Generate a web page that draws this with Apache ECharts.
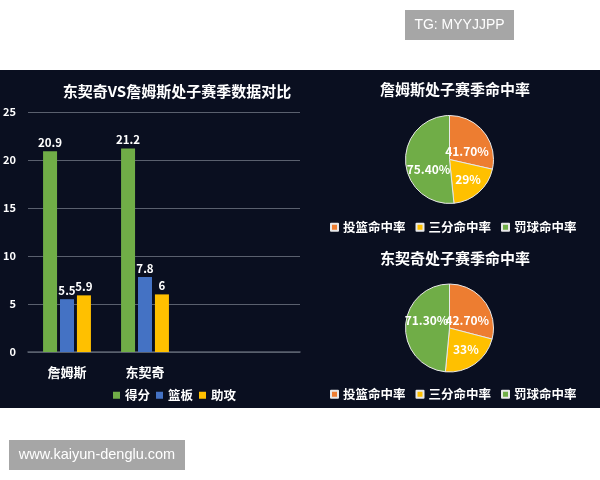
<!DOCTYPE html>
<html><head><meta charset="utf-8">
<script src="https://cdn.jsdelivr.net/npm/echarts@6/dist/echarts.min.js"></script>
<style>html,body{margin:0;padding:0;background:#fff}#c{width:600px;height:480px}</style>
</head><body><div id="c"></div>
<script>
// ---- data ----
var players = ['詹姆斯', '东契奇'];
var points = [20.9, 21.2];
var rebounds = [5.5, 7.8];
var assists = [5.9, 6];
var barSeriesNames = ['得分', '篮板', '助攻'];
var yTicks = [0, 5, 10, 15, 20, 25];

var pieNames = ['投篮命中率', '三分命中率', '罚球命中率'];
var jamesRates = [41.7, 29, 75.4];
var jamesLabels = ['41.70%', '29%', '75.40%'];
var doncicRates = [42.7, 33, 71.3];
var doncicLabels = ['42.70%', '33%', '71.30%'];

var barTitle = '东契奇VS詹姆斯处子赛季数据对比';
var pieTitle1 = '詹姆斯处子赛季命中率';
var pieTitle2 = '东契奇处子赛季命中率';
var watermark1 = 'TG: MYYJJPP';
var watermark2 = 'www.kaiyun-denglu.com';

// ---- styles ----
var FONT = '"Noto Sans CJK SC", "Noto Sans", sans-serif';
var GREEN = '#70ad47', BLUE = '#4472c4', YELLOW = '#ffc000', ORANGE = '#ed7d31';
var GRIDC = '#5a606e';
// label nudges (style only) to mimic the original "best fit" placement
var pieLabelNudge1 = [[-2, 8], [2, 1], [4, 9]];
var pieLabelNudge2 = [[-2, 8], [2, 1], [2, -6]];

function pieData(vals, nudge) {
  return pieNames.map(function (n, i) { return { name: n, value: vals[i], label: { offset: nudge[i] } }; });
}
function pieSeries(vals, labels, cy, nudge) {
  return {
    type: 'pie', center: [449.5, cy], radius: 44, startAngle: 90, clockwise: true,
    color: [ORANGE, YELLOW, GREEN],
    avoidLabelOverlap: false,
    labelLayout: { hideOverlap: false },
    itemStyle: { borderColor: '#e8e8e8', borderWidth: 1 },
    label: {
      show: true, position: 'inside', color: '#fff', fontSize: 12, fontWeight: 'bold', fontFamily: FONT,
      formatter: function (p) { return labels[p.dataIndex]; }
    },
    labelLine: { show: false },
    emphasis: { disabled: true },
    data: pieData(vals, nudge)
  };
}
function barSeries(name, vals, color) {
  return {
    type: 'bar', name: name, data: vals, xAxisIndex: 0, yAxisIndex: 0,
    barWidth: 14, barGap: '21%', itemStyle: { color: color },
    label: { show: true, position: 'top', distance: 3, color: '#fff', fontSize: 11.5, fontWeight: 'bold', fontFamily: FONT },
    emphasis: { disabled: true }
  };
}
var legendText = { color: '#fff', fontSize: 12.5, fontWeight: 'bold', fontFamily: FONT };

var chart = echarts.init(document.getElementById('c'), null, { renderer: 'canvas' });
chart.setOption({
  backgroundColor: '#ffffff',
  animation: false,
  textStyle: { fontFamily: FONT },
  graphic: [
    { type: 'rect', z: -10, shape: { x: 0, y: 70, width: 600, height: 338 }, style: { fill: '#0a0f20' } },
    { type: 'rect', shape: { x: 405, y: 10, width: 109, height: 30 }, style: { fill: '#a6a6a6' } },
    { type: 'text', x: 459.5, y: 25, style: { text: watermark1, fill: '#fff', font: '14px "Liberation Sans", Arial, sans-serif', align: 'center', verticalAlign: 'middle' } },
    { type: 'rect', shape: { x: 9, y: 440, width: 176, height: 30 }, style: { fill: '#a6a6a6' } },
    { type: 'text', x: 97, y: 455, style: { text: watermark2, fill: '#fff', font: '14.5px "Liberation Sans", Arial, sans-serif', align: 'center', verticalAlign: 'middle' } }
  ],
  title: [
    { text: barTitle, left: 172, top: 79, textAlign: 'center', textStyle: { color: '#fff', fontSize: 15, fontWeight: 'bold', fontFamily: FONT } },
    { text: pieTitle1, left: 450, top: 77, textAlign: 'center', textStyle: { color: '#fff', fontSize: 15, fontWeight: 'bold', fontFamily: FONT } },
    { text: pieTitle2, left: 450, top: 246, textAlign: 'center', textStyle: { color: '#fff', fontSize: 15, fontWeight: 'bold', fontFamily: FONT } }
  ],
  legend: [
    { data: barSeriesNames, left: 108, top: 384, width: 200, icon: 'rect', itemWidth: 7, itemHeight: 7, itemGap: 6, textStyle: legendText, selectedMode: false },
    { data: pieNames, left: 325, top: 216, width: 290, icon: 'rect', itemWidth: 7, itemHeight: 7, itemGap: 10, textStyle: legendText, selectedMode: false },
    { data: pieNames, left: 325, top: 383, width: 290, icon: 'rect', itemWidth: 7, itemHeight: 7, itemGap: 10, textStyle: legendText, selectedMode: false }
  ],
  grid: [
    { left: 28, top: 112, width: 156, height: 240, containLabel: false },
    { left: 28, top: 112, width: 272, height: 240, containLabel: false }
  ],
  xAxis: [
    { type: 'category', gridIndex: 0, data: players, axisLine: { show: false }, axisTick: { show: false },
      axisLabel: { color: '#fff', fontSize: 13, fontWeight: 'bold', margin: 14, fontFamily: FONT } },
    { type: 'value', gridIndex: 1, min: 0, max: 1, axisLine: { show: true, lineStyle: { color: GRIDC, width: 1.5 } },
      axisTick: { show: false }, axisLabel: { show: false }, splitLine: { show: false } }
  ],
  yAxis: [
    { type: 'value', gridIndex: 0, min: yTicks[0], max: yTicks[yTicks.length - 1], interval: 5, show: false, splitLine: { show: false } },
    { type: 'value', gridIndex: 1, min: yTicks[0], max: yTicks[yTicks.length - 1], interval: 5,
      axisLine: { show: false }, axisTick: { show: false },
      axisLabel: { color: '#fff', fontSize: 11, fontWeight: 'bold', margin: 12, fontFamily: FONT },
      splitLine: { show: true, lineStyle: { color: GRIDC, width: 1 } } }
  ],
  series: [
    barSeries(barSeriesNames[0], points, GREEN),
    barSeries(barSeriesNames[1], rebounds, BLUE),
    barSeries(barSeriesNames[2], assists, YELLOW),
    pieSeries(jamesRates, jamesLabels, 159.5, pieLabelNudge1),
    pieSeries(doncicRates, doncicLabels, 328, pieLabelNudge2)
  ]
});
</script>
</body></html>
